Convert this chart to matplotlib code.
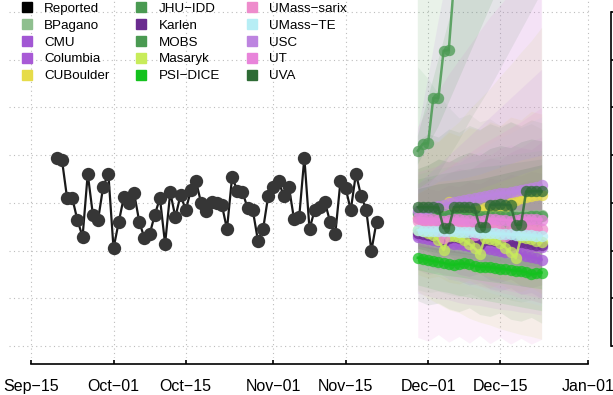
import matplotlib
matplotlib.use('Agg')
import matplotlib.pyplot as plt
from matplotlib.lines import Line2D
import matplotlib.dates as mdates
import numpy as np

plt.rcParams['font.family'] = ['Liberation Sans', 'DejaVu Sans']

# ---------------- data ----------------
reported_start = '2021-09-20'
reported = [395, 390, 310, 310, 264, 229, 361, 275, 264, 334, 361, 205, 259, 312, 299,
            320, 260, 226, 234, 275, 310, 214, 322, 270, 317, 285, 326, 345, 299, 282,
            302, 299, 296, 245, 355, 325, 323, 289, 285, 221, 245, 315, 334, 345, 315,
            334, 266, 270, 395, 245, 285, 292, 301, 260, 235, 345, 331, 285, 361, 315,
            285, 200, 260]

forecast_start = '2021-11-29'
models = ['BPagano', 'CMU', 'Columbia', 'CUBoulder', 'JHU\u2212IDD', 'Karlen', 'MOBS',
          'Masaryk', 'PSI\u2212DICE', 'UMass\u2212sarix', 'UMass\u2212TE', 'USC', 'UT', 'UVA']
colors = ['#8fbf8f', '#a257d4', '#a85ad6', '#e6dc4a', '#4a9a52', '#6a2c8f', '#4a9a52',
          '#c8ec5a', '#14c21e', '#ee8ccc', '#b7eef5', '#bd84e0', '#e884da', '#2e6b35']

# daily point forecasts (Nov 29 .. Dec 23)
bpagano = [276, 277, 276, 278, 277, 276, 277, 276, 275, 276, 275, 276, 275, 274, 275,
           274, 275, 274, 273, 274, 273, 274, 273, 274, 274]
cmu = [228, 226, 225, 222, 220, 219, 217, 214, 213, 211, 210, 208, 206, 205, 203,
       201, 199, 197, 196, 194, 192, 189, 187, 184, 181]
columbia = [232, 231, 229, 228, 226, 222, 224, 225, 223, 221, 219, 216, 213, 218, 219,
            217, 215, 212, 209, 212, 213, 212, 210, 209, 208]
cuboulder = [268, 272, 276, 280, 286, 294, 302, 298, 290, 284, 280, 282, 286, 290, 283,
             281, 284, 292, 300, 306, 310, 312, 314, 316, 317]
jhu = [278, 278, 277, 277, 276, 276, 275, 275, 275, 274, 274, 274, 273, 273, 273,
       272, 272, 272, 272, 271, 271, 271, 272, 272, 273]
karlen = [236, 234, 232, 230, 226, 220, 226, 228, 226, 223, 221, 218, 214, 222, 223,
          221, 218, 215, 212, 216, 218, 216, 214, 212, 211]
mobs = [409, 424, 425, 520, 520, 619, 620, 760, 775, 880]
masaryk = [243, 240, 237, 233, 222, 201, 230, 230, 228, 222, 214, 205, 193, 226, 225,
           222, 215, 206, 196, 184, 228, 226, 224, 221, 218]
psi = [185, 183, 180, 178, 176, 174, 171, 170, 172, 173, 171, 168, 166, 166, 165,
       164, 162, 161, 159, 158, 157, 155, 150, 152, 154]
sarix = [262, 260, 258, 256, 242, 226, 252, 258, 256, 254, 246, 232, 250, 257, 255,
         252, 243, 230, 248, 254, 252, 250, 248, 246, 245]
umass_te = [243, 242, 242, 241, 241, 240, 240, 240, 239, 239, 238, 238, 237, 237, 236,
            236, 235, 235, 234, 233, 233, 232, 232, 231, 231]
usc = [282, 285, 288, 291, 294, 296, 299, 301, 304, 306, 308, 310, 312, 314, 316,
       318, 320, 321, 323, 325, 327, 329, 331, 334, 337]
ut = [268, 267, 266, 267, 265, 262, 264, 266, 266, 265, 264, 262, 263, 265, 266,
      266, 265, 264, 263, 264, 266, 267, 267, 266, 265]
uva = [291, 291, 291, 291, 290, 247, 247, 291, 292, 292, 291, 289, 250, 250, 296,
       296, 297, 296, 295, 254, 254, 324, 324, 325, 324]
points = [bpagano, cmu, columbia, cuboulder, jhu, karlen, mobs, masaryk, psi, sarix,
          umass_te, usc, ut, uva]

# outer prediction intervals, every second day (Nov 29, Dec 1, ... Dec 23)
lo = [[118, 112, 115, 108, 104, 110, 102, 98, 104, 96, 92, 97, 90],
      [160, 150, 154, 140, 136, 128, 132, 120, 116, 122, 108, 112, 100],
      [185, 178, 172, 176, 165, 160, 166, 152, 150, 156, 142, 140, 146],
      [150, 142, 146, 134, 130, 138, 126, 122, 130, 118, 114, 122, 110],
      [95, 86, 90, 78, 72, 80, 66, 62, 70, 56, 52, 60, 48],
      [175, 168, 160, 164, 150, 146, 152, 138, 134, 140, 126, 122, 128],
      [330, 338, 360, 395, 430, 470, 505, 540, 580, 620, 660, 700, 740],
      [115, 100, 88, 76, 70, 58, 50, 44, 36, 30, 24, 20, 14],
      [128, 122, 116, 112, 106, 102, 98, 94, 90, 86, 82, 78, 74],
      [170, 162, 155, 148, 138, 132, 126, 118, 112, 108, 100, 96, 90],
      [165, 156, 148, 140, 134, 126, 120, 112, 106, 100, 94, 90, 84],
      [110, 104, 98, 96, 90, 86, 84, 80, 76, 74, 70, 68, 64],
      [18, 10, 24, 8, 20, 6, 22, 5, 18, 4, 16, 4, 14],
      [205, 198, 184, 190, 176, 170, 180, 162, 158, 168, 150, 146, 156]]
hi = [[585, 560, 528, 500, 478, 486, 470, 476, 462, 470, 458, 466, 455],
      [320, 330, 326, 338, 334, 345, 340, 352, 348, 360, 356, 366, 362],
      [340, 352, 348, 362, 372, 368, 384, 394, 390, 406, 416, 412, 428],
      [420, 436, 428, 448, 440, 458, 452, 470, 462, 480, 474, 492, 486],
      [430, 445, 438, 455, 448, 462, 454, 466, 458, 470, 462, 474, 468],
      [290, 298, 306, 302, 314, 320, 316, 328, 334, 330, 342, 348, 344],
      [900, 1050, 1200, 1380, 1560, 1750, 1950, 2150, 2380, 2600, 2850, 3100, 3380],
      [390, 412, 430, 452, 470, 496, 518, 540, 566, 590, 616, 640, 668],
      [252, 248, 244, 240, 236, 234, 230, 226, 224, 220, 216, 214, 210],
      [365, 372, 378, 390, 384, 398, 406, 400, 414, 422, 416, 430, 438],
      [330, 345, 360, 372, 386, 398, 410, 424, 436, 446, 458, 470, 480],
      [450, 560, 680, 790, 900, 1010, 1120, 1230, 1340, 1450, 1560, 1670, 1780],
      [460, 500, 535, 570, 600, 630, 660, 690, 715, 740, 770, 790, 820],
      [372, 380, 392, 386, 398, 406, 400, 414, 420, 416, 428, 434, 430]]

# inner prediction intervals, every fourth day (Nov 29, Dec 3, ... Dec 23)
lo_in = [[200, 190, 185, 180, 176, 172, 168],
         [195, 185, 175, 165, 155, 148, 140],
         [205, 195, 188, 180, 176, 170, 165],
         [220, 225, 220, 225, 230, 235, 240],
         [205, 195, 190, 182, 176, 170, 165],
         [210, 200, 195, 190, 185, 180, 175],
         [380, 460, 560, 660, 760, 860, 960],
         [200, 180, 165, 150, 140, 128, 118],
         [160, 150, 145, 138, 132, 126, 120],
         [225, 210, 210, 205, 200, 198, 195],
         [215, 205, 198, 190, 185, 180, 175],
         [230, 220, 215, 210, 205, 200, 198],
         [200, 170, 150, 135, 120, 110, 100],
         [250, 240, 235, 230, 225, 220, 215]]
hi_in = [[360, 372, 380, 390, 398, 404, 410],
         [262, 266, 262, 258, 256, 252, 250],
         [262, 270, 278, 286, 294, 300, 308],
         [320, 345, 350, 360, 375, 390, 400],
         [350, 360, 368, 375, 380, 386, 392],
         [262, 265, 268, 272, 276, 280, 284],
         [440, 600, 760, 920, 1080, 1240, 1400],
         [290, 300, 315, 330, 345, 360, 375],
         [210, 205, 200, 196, 192, 188, 185],
         [300, 305, 310, 318, 322, 328, 335],
         [272, 282, 290, 298, 305, 312, 320],
         [340, 380, 420, 460, 500, 540, 580],
         [330, 360, 390, 420, 445, 470, 500],
         [330, 340, 345, 350, 360, 370, 380]]

tick_dates = ['2021-09-15', '2021-10-01', '2021-10-15', '2021-11-01', '2021-11-15',
              '2021-12-01', '2021-12-15', '2022-01-01']
tick_labels = ['Sep\u221215', 'Oct\u221201', 'Oct\u221215', 'Nov\u221201', 'Nov\u221215',
               'Dec\u221201', 'Dec\u221215', 'Jan\u221201']
y_ticks = [0, 100, 200, 300, 400, 500, 600, 700]

# ---------------- figure ----------------
W, H = 613, 395
fig = plt.figure(figsize=(W / 100, H / 100), dpi=100)
ax = fig.add_axes([9 / W, (H - 358) / H, 581 / W, 358 / H])

d0 = mdates.date2num(np.datetime64('2021-09-15'))
ppd = 557.0 / 108.0
ax.set_xlim(d0 - 22 / ppd, d0 + 559 / ppd)
ppv = 47.71 / 100.0
ax.set_ylim(-12 / ppv, 346 / ppv)

rep_dates = np.datetime64(reported_start) + np.arange(len(reported))
fc_dates = np.datetime64(forecast_start) + np.arange(25)
band_dates = fc_dates[::2]
inner_dates = fc_dates[::4]

# bands
for c, l, h in zip(colors, lo, hi):
    ax.fill_between(band_dates, l, h, color=c, alpha=0.12, lw=0, zorder=1)
for c, l, h in zip(colors, lo_in, hi_in):
    ax.fill_between(inner_dates, l, h, color=c, alpha=0.12, lw=0, zorder=1)

# reported
ax.plot(rep_dates, reported, color='#1a1a1a', lw=1.6, zorder=3)
ax.plot(rep_dates, reported, 'o', color='#363636', ms=9.6, mew=0, zorder=3)

# forecasts
for c, p in zip(colors, points):
    d = fc_dates[:len(p)]
    ax.plot(d, p, '-', color=c, lw=1.8, alpha=0.85, zorder=4)
    ax.plot(d, p, 'o', color=c, ms=8.2, mew=0, alpha=0.75, zorder=4)

# axes styling
ax.set_xticks(np.array(tick_dates, dtype='datetime64[D]'))
ax.set_xticklabels(tick_labels)
ax.set_yticks(y_ticks)
ax.yaxis.tick_right()
ax.tick_params(axis='y', which='both', labelright=False, direction='out', length=8,
               width=1.2, color='black')
ax.tick_params(axis='x', direction='in', length=3, width=1.2, pad=11, labelsize=11.5)
for s in ['left', 'top']:
    ax.spines[s].set_visible(False)
ax.spines['bottom'].set_position(('outward', 4.3))
ax.spines['bottom'].set_bounds(mdates.date2num(np.datetime64(tick_dates[0])),
                               mdates.date2num(np.datetime64(tick_dates[-1])))
ax.spines['bottom'].set_linewidth(1.2)
ax.spines['right'].set_position(('outward', 15.1))
ax.spines['right'].set_bounds(y_ticks[0], y_ticks[-1])
ax.spines['right'].set_linewidth(1.2)
ax.set_axisbelow(True)
ax.grid(True, color='#bdbdbd', lw=0.8, linestyle=(0, (1, 3)))
ax.patch.set_alpha(0)

handles = [Line2D([], [], marker='s', ls='none', color='black', ms=6.8)]
handles += [Line2D([], [], marker='s', ls='none', color=c, ms=6.8) for c in colors]
labels = ['Reported'] + models
fig.legend(handles, labels, ncol=3, frameon=False, loc='upper left',
           bbox_to_anchor=(15 / W, 1 + 3 / H), fontsize=9.6, handlelength=1.0,
           handletextpad=0.775, columnspacing=1.9, labelspacing=0.345, borderaxespad=0)

fig.savefig('out.png', dpi=100)
